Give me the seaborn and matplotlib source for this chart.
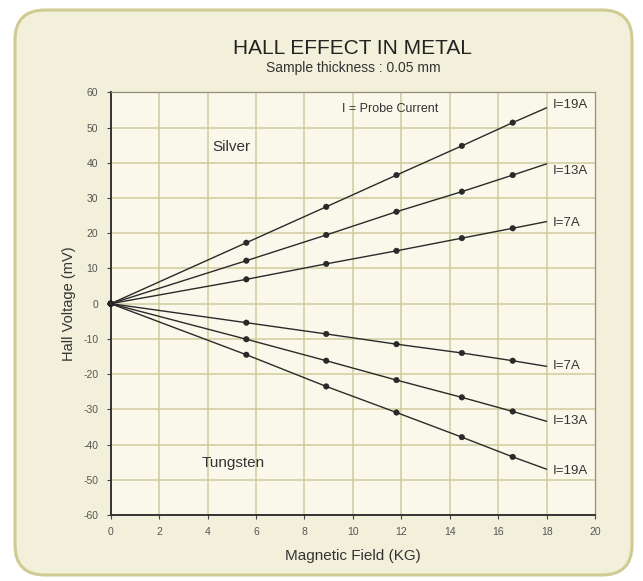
import numpy as np
import pandas as pd
import matplotlib
matplotlib.use("Agg")
import matplotlib.pyplot as plt
from matplotlib.patches import FancyBboxPatch
from matplotlib.transforms import IdentityTransform
import seaborn as sns

# Measured field values (KG) and Hall voltages (mV)
field = [0.0, 5.6, 8.9, 11.8, 14.5, 16.6]
currents = ["I=7A", "I=13A", "I=19A"]

silver_7A = [0.0, 6.9, 11.3, 15.0, 18.6, 21.4]
silver_13A = [0.0, 12.2, 19.5, 26.1, 31.8, 36.5]
silver_19A = [0.0, 17.3, 27.5, 36.5, 44.8, 51.4]

tungsten_7A = [0.0, -5.4, -8.6, -11.5, -14.0, -16.2]
tungsten_13A = [0.0, -10.1, -16.2, -21.7, -26.6, -30.6]
tungsten_19A = [0.0, -14.5, -23.5, -30.9, -37.9, -43.5]

# Fitted lines are drawn out to 18 KG
fit_end_field = 18.0
silver_fit_end = [23.3, 39.7, 55.6]
tungsten_fit_end = [-17.8, -33.4, -47.0]

x_ticks = list(range(0, 21, 2))
y_ticks = list(range(-60, 61, 10))

# Long-form tables
rows, fit_rows = [], []
for metal, series, ends in [
    ("Silver", [silver_7A, silver_13A, silver_19A], silver_fit_end),
    ("Tungsten", [tungsten_7A, tungsten_13A, tungsten_19A], tungsten_fit_end),
]:
    for cur, vals, end in zip(currents, series, ends):
        for b, v in zip(field, vals):
            rows.append({"metal": metal, "current": cur, "B": b, "V": v})
            fit_rows.append({"metal": metal, "current": cur, "B": b, "V": v})
        fit_rows.append({"metal": metal, "current": cur, "B": fit_end_field, "V": end})
points = pd.DataFrame(rows)
lines = pd.DataFrame(fit_rows)
lines["series"] = lines["metal"] + " " + lines["current"]
points["series"] = points["metal"] + " " + points["current"]

sns.set_theme(style="white")
plt.rcParams["font.family"] = ["Liberation Sans", "DejaVu Sans"]
plt.rcParams["axes.unicode_minus"] = False

fig = plt.figure(figsize=(6.43, 5.81), dpi=100)
fig.patch.set_facecolor("white")

# Rounded beige panel behind the chart
panel = FancyBboxPatch((15, 6), 617, 565,
                       boxstyle="round,pad=0,rounding_size=30",
                       transform=IdentityTransform(),
                       facecolor="#F2F0DA", edgecolor="#CFCB93",
                       linewidth=2.2, zorder=-10)
fig.patches.append(panel)

ax = fig.add_axes([0.1722, 0.1136, 0.7532, 0.7275])
ax.set_zorder(1)
ax.set_facecolor("#FAF8EA")

grid_color = "#CFCB9C"
for gx in x_ticks[1:-1]:
    ax.axvline(gx, color=grid_color, lw=1.1, zorder=1)
for gy in y_ticks[1:-1]:
    ax.axhline(gy, color=grid_color, lw=1.1, zorder=1)

series_names = list(lines["series"].unique())
pal = {s: "#2a2a2a" for s in series_names}
sns.lineplot(data=lines, x="B", y="V", hue="series", palette=pal,
             sort=False, estimator=None, linewidth=1.0, legend=False,
             ax=ax, zorder=3)
sns.scatterplot(data=points, x="B", y="V", hue="series", palette=pal,
                s=16, edgecolor="#111111", linewidth=0.3, legend=False,
                ax=ax, zorder=4, clip_on=False)

ax.set_xlim(0, 20)
ax.set_ylim(-60, 60)
ax.set_xticks(x_ticks)
ax.set_yticks(y_ticks)
ax.tick_params(axis="both", direction="out", length=3, width=0.8,
               color="#444444", labelsize=7.5, labelcolor="#555555", pad=6)
ax.tick_params(axis="both", which="both", bottom=True, left=True)

for side in ["left", "bottom"]:
    ax.spines[side].set_color("#333333")
    ax.spines[side].set_linewidth(1.4)
for side in ["top", "right"]:
    ax.spines[side].set_color("#8f8f7a")
    ax.spines[side].set_linewidth(0.9)

ax.set_xlabel("Magnetic Field (KG)", fontsize=11, color="#333333", labelpad=8)
ax.set_ylabel("Hall Voltage (mV)", fontsize=10.5, color="#333333", labelpad=5)

# Titles
fig.text(0.5488, 1 - 49 / 581, "HALL EFFECT IN METAL", ha="center", va="center",
         fontsize=15, color="#222222")
fig.text(0.5488, 1 - 68 / 581, "Sample thickness : 0.05 mm", ha="center",
         va="center", fontsize=10, color="#333333")

# Annotations
ax.text(11.55, 55.3, "I = Probe Current", ha="center", va="center",
        fontsize=9, color="#333333")
ax.text(5.0, 44.6, "Silver", ha="center", va="center", fontsize=11,
        color="#333333")
ax.text(5.07, -45.1, "Tungsten", ha="center", va="center", fontsize=11,
        color="#333333")

silver_label_y = [23.0, 37.8, 56.4]
tungsten_label_y = [-17.6, -33.4, -47.6]
for cur, y in zip(currents, silver_label_y):
    ax.text(18.25, y, cur, ha="left", va="center", fontsize=9.5,
            color="#333333", clip_on=False)
for cur, y in zip(currents, tungsten_label_y):
    ax.text(18.25, y, cur, ha="left", va="center", fontsize=9.5,
            color="#333333", clip_on=False)

fig.savefig("out.png", dpi=100, facecolor=fig.get_facecolor())
